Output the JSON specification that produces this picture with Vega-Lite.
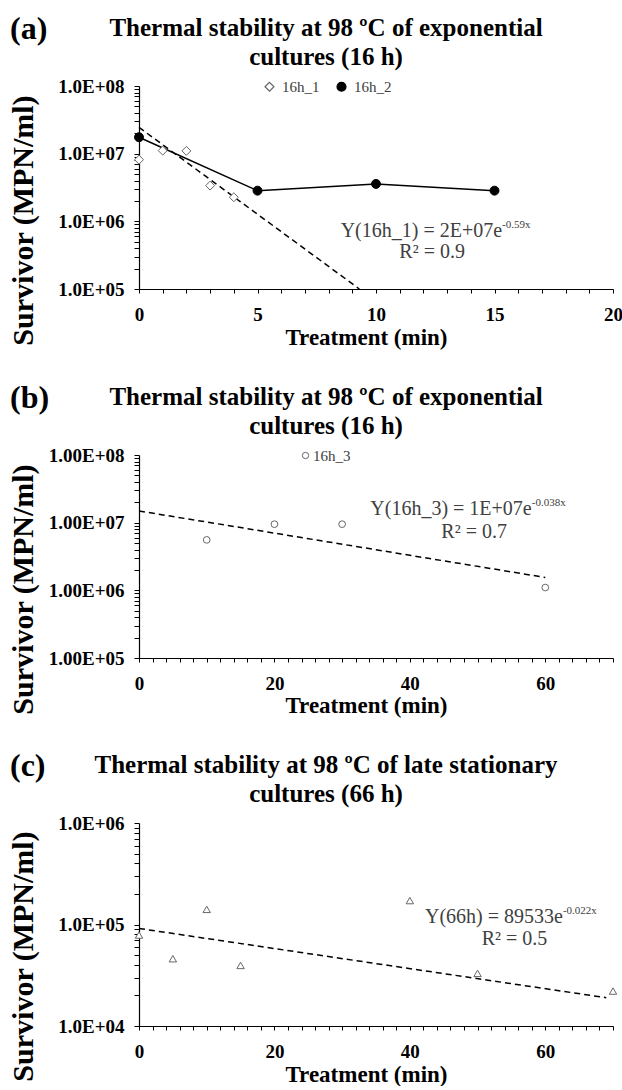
{
  "$schema": "https://vega.github.io/schema/vega-lite/v6.json",
  "padding": {"top": 13, "left": 8, "right": 0, "bottom": 0},
  "spacing": 33,
  "resolve": {"scale": {"shape": "independent", "fill": "independent", "stroke": "independent"}, "legend": {"shape": "independent", "fill": "independent", "stroke": "independent"}},
  "config": {
    "font": "Liberation Serif",
    "view": {"stroke": null},
    "axis": {"grid": false, "domainColor": "black", "tickColor": "black", "labelColor": "black", "titleColor": "black", "labelFont": "Liberation Serif", "titleFont": "Liberation Serif", "labelFontWeight": "bold", "titleFontWeight": "bold", "labelFontSize": 19, "domainWidth": 1.2, "tickWidth": 1, "labelOverlap": false, "labelFlush": false},
    "title": {"font": "Liberation Serif", "fontWeight": "bold", "color": "black"},
    "legend": {"labelFont": "Liberation Serif", "labelFontSize": 15, "labelColor": "#404040", "labelFontWeight": "normal"},
    "text": {"font": "Liberation Serif"}
  },
  "datasets": {
    "a_pts": [
      {"sa": "16h_1", "t": 0, "v": 8150000},
      {"sa": "16h_1", "t": 1, "v": 11100000},
      {"sa": "16h_1", "t": 2, "v": 11000000},
      {"sa": "16h_1", "t": 3, "v": 3370000},
      {"sa": "16h_1", "t": 4, "v": 2270000},
      {"sa": "16h_2", "t": 0, "v": 17500000},
      {"sa": "16h_2", "t": 5, "v": 2840000},
      {"sa": "16h_2", "t": 10, "v": 3570000},
      {"sa": "16h_2", "t": 15, "v": 2840000}
    ],
    "a_fit": [{"t": 0, "v": 24500000}, {"t": 9.3, "v": 100000}],
    "b_pts": [
      {"sb": "16h_3", "t": 10, "v": 5570000},
      {"sb": "16h_3", "t": 20, "v": 9500000},
      {"sb": "16h_3", "t": 30, "v": 9500000},
      {"sb": "16h_3", "t": 60, "v": 1100000}
    ],
    "b_fit": [{"t": 0, "v": 14900000}, {"t": 60, "v": 1550000}],
    "c_pts": [
      {"sc": "66h", "t": 0, "v": 78700},
      {"sc": "66h", "t": 5, "v": 46000},
      {"sc": "66h", "t": 10, "v": 141000},
      {"sc": "66h", "t": 15, "v": 39500},
      {"sc": "66h", "t": 40, "v": 172000},
      {"sc": "66h", "t": 50, "v": 33000},
      {"sc": "66h", "t": 70, "v": 22100}
    ],
    "c_fit": [{"t": 0, "v": 91400}, {"t": 69, "v": 19000}],
    "one": [{"k": 1}]
  },
  "vconcat": [
    {
      "title": {"text": "(a)", "anchor": "start", "frame": "group", "fontSize": 32, "offset": -30, "dx": -129},
      "resolve": {"scale": {"shape": "independent", "fill": "independent", "stroke": "independent"}, "legend": {"shape": "independent", "fill": "independent", "stroke": "independent"}},
      "vconcat": [
        {
          "title": {"text": ["Thermal stability at 98 ºC of exponential", "cultures (16 h)"], "fontSize": 25, "lineHeight": 29, "anchor": "middle", "frame": "group", "dx": -50, "offset": 7},
          "width": 474,
          "height": 203,
          "layer": [
            {
              "encoding": {
                "x": {"field": "t", "type": "quantitative", "scale": {"domain": [0, 20], "nice": false, "zero": false},
                  "axis": {"values": [0,1,2,3,4,5,6,7,8,9,10,11,12,13,14,15,16,17,18,19,20], "labelExpr": "datum.value % 5 === 0 ? datum.label : ''", "labelOverlap": false, "tickSize": 4, "labelPadding": 12, "title": "Treatment (min)", "titleFontSize": 23, "titleX": 227, "titleY": 55, "titleBaseline": "alphabetic", "titleAlign": "center"}},
                "y": {"field": "v", "type": "quantitative", "scale": {"type": "log", "domain": [100000, 100000000], "nice": false},
                  "axis": {"values": [100000,200000,300000,400000,500000,600000,700000,800000,900000,1000000,2000000,3000000,4000000,5000000,6000000,7000000,8000000,9000000,10000000,20000000,30000000,40000000,50000000,60000000,70000000,80000000,90000000,100000000], "labelExpr": "abs(log(datum.value)/LN10 - round(log(datum.value)/LN10)) < 0.001 ? '1.0E+0' + round(log(datum.value)/LN10) : ''", "labelOverlap": false, "tickSize": 5, "labelPadding": 10, "title": "Survivor (MPN/ml)", "titleFontSize": 30, "titleX": -107, "titleY": 134, "titleBaseline": "alphabetic", "titleAlign": "center", "titleAngle": 270}}
              },
              "layer": [
                {"data": {"name": "a_fit"}, "mark": {"type": "line", "color": "black", "strokeWidth": 1.5, "strokeDash": [6, 4]}},
                {"data": {"name": "a_pts"}, "transform": [{"filter": "datum.sa === '16h_2'"}], "mark": {"type": "line", "color": "black", "strokeWidth": 1.5}},
                {"data": {"name": "a_pts"}, "mark": {"type": "point", "size": 80, "opacity": 1, "strokeWidth": 1},
                  "encoding": {
                    "shape": {"field": "sa", "type": "nominal", "scale": {"domain": ["16h_1", "16h_2"], "range": ["diamond", "circle"]},
                      "legend": {"title": null, "orient": "none", "legendX": 123, "legendY": -7, "direction": "horizontal", "symbolSize": 80, "labelOffset": 5, "columnPadding": 14, "symbolStrokeWidth": 1.2}},
                    "fill": {"field": "sa", "type": "nominal", "scale": {"domain": ["16h_1", "16h_2"], "range": ["white", "black"]},
                      "legend": {"title": null, "orient": "none", "legendX": 123, "legendY": -7, "direction": "horizontal", "symbolSize": 80, "labelOffset": 5, "columnPadding": 14, "symbolStrokeWidth": 1.2}},
                    "stroke": {"field": "sa", "type": "nominal", "scale": {"domain": ["16h_1", "16h_2"], "range": ["#666666", "black"]},
                      "legend": {"title": null, "orient": "none", "legendX": 123, "legendY": -7, "direction": "horizontal", "symbolSize": 80, "labelOffset": 5, "columnPadding": 14, "symbolStrokeWidth": 1.2}}
                  }}
              ]
            },
            {"data": {"name": "one"}, "mark": {"type": "text", "align": "right", "baseline": "alphabetic", "fontSize": 20, "color": "#404040"},
              "encoding": {
                "x": {"datum": 15.32, "type": "quantitative", "axis": {"values": [0,1,2,3,4,5,6,7,8,9,10,11,12,13,14,15,16,17,18,19,20], "labelExpr": "datum.value % 5 === 0 ? datum.label : ''", "labelOverlap": false, "tickSize": 4, "labelPadding": 12, "title": "Treatment (min)", "titleFontSize": 23, "titleX": 227, "titleY": 55, "titleBaseline": "alphabetic", "titleAlign": "center"}},
                "y": {"datum": 578000, "type": "quantitative", "axis": {"values": [100000,200000,300000,400000,500000,600000,700000,800000,900000,1000000,2000000,3000000,4000000,5000000,6000000,7000000,8000000,9000000,10000000,20000000,30000000,40000000,50000000,60000000,70000000,80000000,90000000,100000000], "labelExpr": "abs(log(datum.value)/LN10 - round(log(datum.value)/LN10)) < 0.001 ? '1.0E+0' + round(log(datum.value)/LN10) : ''", "labelOverlap": false, "tickSize": 5, "labelPadding": 10, "title": "Survivor (MPN/ml)", "titleFontSize": 30, "titleX": -107, "titleY": 134, "titleBaseline": "alphabetic", "titleAlign": "center", "titleAngle": 270}},
                "text": {"value": "Y(16h_1) = 2E+07e"}}},
            {"data": {"name": "one"}, "mark": {"type": "text", "align": "left", "baseline": "alphabetic", "fontSize": 11, "dy": -9, "color": "#404040"},
              "encoding": {
                "x": {"datum": 15.32, "type": "quantitative", "axis": {"values": [0,1,2,3,4,5,6,7,8,9,10,11,12,13,14,15,16,17,18,19,20], "labelExpr": "datum.value % 5 === 0 ? datum.label : ''", "labelOverlap": false, "tickSize": 4, "labelPadding": 12, "title": "Treatment (min)", "titleFontSize": 23, "titleX": 227, "titleY": 55, "titleBaseline": "alphabetic", "titleAlign": "center"}},
                "y": {"datum": 578000, "type": "quantitative", "axis": {"values": [100000,200000,300000,400000,500000,600000,700000,800000,900000,1000000,2000000,3000000,4000000,5000000,6000000,7000000,8000000,9000000,10000000,20000000,30000000,40000000,50000000,60000000,70000000,80000000,90000000,100000000], "labelExpr": "abs(log(datum.value)/LN10 - round(log(datum.value)/LN10)) < 0.001 ? '1.0E+0' + round(log(datum.value)/LN10) : ''", "labelOverlap": false, "tickSize": 5, "labelPadding": 10, "title": "Survivor (MPN/ml)", "titleFontSize": 30, "titleX": -107, "titleY": 134, "titleBaseline": "alphabetic", "titleAlign": "center", "titleAngle": 270}},
                "text": {"value": "-0.59x"}}},
            {"data": {"name": "one"}, "mark": {"type": "text", "align": "center", "baseline": "alphabetic", "fontSize": 20, "color": "#404040"},
              "encoding": {
                "x": {"datum": 12.37, "type": "quantitative", "axis": {"values": [0,1,2,3,4,5,6,7,8,9,10,11,12,13,14,15,16,17,18,19,20], "labelExpr": "datum.value % 5 === 0 ? datum.label : ''", "labelOverlap": false, "tickSize": 4, "labelPadding": 12, "title": "Treatment (min)", "titleFontSize": 23, "titleX": 227, "titleY": 55, "titleBaseline": "alphabetic", "titleAlign": "center"}},
                "y": {"datum": 288000, "type": "quantitative", "axis": {"values": [100000,200000,300000,400000,500000,600000,700000,800000,900000,1000000,2000000,3000000,4000000,5000000,6000000,7000000,8000000,9000000,10000000,20000000,30000000,40000000,50000000,60000000,70000000,80000000,90000000,100000000], "labelExpr": "abs(log(datum.value)/LN10 - round(log(datum.value)/LN10)) < 0.001 ? '1.0E+0' + round(log(datum.value)/LN10) : ''", "labelOverlap": false, "tickSize": 5, "labelPadding": 10, "title": "Survivor (MPN/ml)", "titleFontSize": 30, "titleX": -107, "titleY": 134, "titleBaseline": "alphabetic", "titleAlign": "center", "titleAngle": 270}},
                "text": {"value": "R² = 0.9"}}}
          ]
        }
      ]
    },
    {
      "title": {"text": "(b)", "anchor": "start", "frame": "group", "fontSize": 32, "offset": -30, "dx": -129},
      "resolve": {"scale": {"shape": "independent", "stroke": "independent"}, "legend": {"shape": "independent", "stroke": "independent"}},
      "vconcat": [
        {
          "title": {"text": ["Thermal stability at 98 ºC of exponential", "cultures (16 h)"], "fontSize": 25, "lineHeight": 29, "anchor": "middle", "frame": "group", "dx": -50, "offset": 7},
          "width": 474,
          "height": 203,
          "layer": [
            {
              "encoding": {
                "x": {"field": "t", "type": "quantitative", "scale": {"domain": [0, 70], "nice": false, "zero": false},
                  "axis": {"values": [0,2,4,6,8,10,12,14,16,18,20,22,24,26,28,30,32,34,36,38,40,42,44,46,48,50,52,54,56,58,60,62,64,66,68,70], "labelExpr": "datum.value % 20 === 0 ? datum.label : ''", "labelOverlap": false, "tickSize": 4, "labelPadding": 12, "title": "Treatment (min)", "titleFontSize": 23, "titleX": 227, "titleY": 54, "titleBaseline": "alphabetic", "titleAlign": "center"}},
                "y": {"field": "v", "type": "quantitative", "scale": {"type": "log", "domain": [100000, 100000000], "nice": false},
                  "axis": {"values": [100000,200000,300000,400000,500000,600000,700000,800000,900000,1000000,2000000,3000000,4000000,5000000,6000000,7000000,8000000,9000000,10000000,20000000,30000000,40000000,50000000,60000000,70000000,80000000,90000000,100000000], "labelExpr": "abs(log(datum.value)/LN10 - round(log(datum.value)/LN10)) < 0.001 ? '1.00E+0' + round(log(datum.value)/LN10) : ''", "labelOverlap": false, "tickSize": 5, "labelPadding": 10, "title": "Survivor (MPN/ml)", "titleFontSize": 30, "titleX": -107, "titleY": 134, "titleBaseline": "alphabetic", "titleAlign": "center", "titleAngle": 270}}
              },
              "layer": [
                {"data": {"name": "b_fit"}, "mark": {"type": "line", "color": "black", "strokeWidth": 1.5, "strokeDash": [6, 4]}},
                {"data": {"name": "b_pts"}, "mark": {"type": "point", "shape": "circle", "size": 45, "opacity": 1, "strokeWidth": 1, "fill": "white"},
                  "encoding": {
                    "stroke": {"field": "sb", "type": "nominal", "scale": {"domain": ["16h_3"], "range": ["#666666"]},
                      "legend": {"title": null, "orient": "none", "legendX": 159, "legendY": -7, "direction": "horizontal", "symbolType": "circle", "symbolSize": 40, "labelOffset": 0, "symbolFillColor": "white", "symbolStrokeWidth": 1}}
                  }}
              ]
            },
            {"data": {"name": "one"}, "mark": {"type": "text", "align": "right", "baseline": "alphabetic", "fontSize": 20, "color": "#404040"},
              "encoding": {
                "x": {"datum": 58.0, "type": "quantitative", "axis": {"values": [0,2,4,6,8,10,12,14,16,18,20,22,24,26,28,30,32,34,36,38,40,42,44,46,48,50,52,54,56,58,60,62,64,66,68,70], "labelExpr": "datum.value % 20 === 0 ? datum.label : ''", "labelOverlap": false, "tickSize": 4, "labelPadding": 12, "title": "Treatment (min)", "titleFontSize": 23, "titleX": 227, "titleY": 54, "titleBaseline": "alphabetic", "titleAlign": "center"}},
                "y": {"datum": 13000000, "type": "quantitative", "axis": {"values": [100000,200000,300000,400000,500000,600000,700000,800000,900000,1000000,2000000,3000000,4000000,5000000,6000000,7000000,8000000,9000000,10000000,20000000,30000000,40000000,50000000,60000000,70000000,80000000,90000000,100000000], "labelExpr": "abs(log(datum.value)/LN10 - round(log(datum.value)/LN10)) < 0.001 ? '1.00E+0' + round(log(datum.value)/LN10) : ''", "labelOverlap": false, "tickSize": 5, "labelPadding": 10, "title": "Survivor (MPN/ml)", "titleFontSize": 30, "titleX": -107, "titleY": 134, "titleBaseline": "alphabetic", "titleAlign": "center", "titleAngle": 270}},
                "text": {"value": "Y(16h_3) = 1E+07e"}}},
            {"data": {"name": "one"}, "mark": {"type": "text", "align": "left", "baseline": "alphabetic", "fontSize": 11, "dy": -9, "color": "#404040"},
              "encoding": {
                "x": {"datum": 58.0, "type": "quantitative", "axis": {"values": [0,2,4,6,8,10,12,14,16,18,20,22,24,26,28,30,32,34,36,38,40,42,44,46,48,50,52,54,56,58,60,62,64,66,68,70], "labelExpr": "datum.value % 20 === 0 ? datum.label : ''", "labelOverlap": false, "tickSize": 4, "labelPadding": 12, "title": "Treatment (min)", "titleFontSize": 23, "titleX": 227, "titleY": 54, "titleBaseline": "alphabetic", "titleAlign": "center"}},
                "y": {"datum": 13000000, "type": "quantitative", "axis": {"values": [100000,200000,300000,400000,500000,600000,700000,800000,900000,1000000,2000000,3000000,4000000,5000000,6000000,7000000,8000000,9000000,10000000,20000000,30000000,40000000,50000000,60000000,70000000,80000000,90000000,100000000], "labelExpr": "abs(log(datum.value)/LN10 - round(log(datum.value)/LN10)) < 0.001 ? '1.00E+0' + round(log(datum.value)/LN10) : ''", "labelOverlap": false, "tickSize": 5, "labelPadding": 10, "title": "Survivor (MPN/ml)", "titleFontSize": 30, "titleX": -107, "titleY": 134, "titleBaseline": "alphabetic", "titleAlign": "center", "titleAngle": 270}},
                "text": {"value": "-0.038x"}}},
            {"data": {"name": "one"}, "mark": {"type": "text", "align": "center", "baseline": "alphabetic", "fontSize": 20, "color": "#404040"},
              "encoding": {
                "x": {"datum": 49.5, "type": "quantitative", "axis": {"values": [0,2,4,6,8,10,12,14,16,18,20,22,24,26,28,30,32,34,36,38,40,42,44,46,48,50,52,54,56,58,60,62,64,66,68,70], "labelExpr": "datum.value % 20 === 0 ? datum.label : ''", "labelOverlap": false, "tickSize": 4, "labelPadding": 12, "title": "Treatment (min)", "titleFontSize": 23, "titleX": 227, "titleY": 54, "titleBaseline": "alphabetic", "titleAlign": "center"}},
                "y": {"datum": 5970000, "type": "quantitative", "axis": {"values": [100000,200000,300000,400000,500000,600000,700000,800000,900000,1000000,2000000,3000000,4000000,5000000,6000000,7000000,8000000,9000000,10000000,20000000,30000000,40000000,50000000,60000000,70000000,80000000,90000000,100000000], "labelExpr": "abs(log(datum.value)/LN10 - round(log(datum.value)/LN10)) < 0.001 ? '1.00E+0' + round(log(datum.value)/LN10) : ''", "labelOverlap": false, "tickSize": 5, "labelPadding": 10, "title": "Survivor (MPN/ml)", "titleFontSize": 30, "titleX": -107, "titleY": 134, "titleBaseline": "alphabetic", "titleAlign": "center", "titleAngle": 270}},
                "text": {"value": "R² = 0.7"}}}
          ]
        }
      ]
    },
    {
      "title": {"text": "(c)", "anchor": "start", "frame": "group", "fontSize": 32, "offset": -30, "dx": -129},
      "vconcat": [
        {
          "title": {"text": ["Thermal stability at 98 ºC of late stationary", "cultures (66 h)"], "fontSize": 25, "lineHeight": 29, "anchor": "middle", "frame": "group", "dx": -50, "offset": 7},
          "width": 474,
          "height": 203,
          "layer": [
            {
              "encoding": {
                "x": {"field": "t", "type": "quantitative", "scale": {"domain": [0, 70], "nice": false, "zero": false},
                  "axis": {"values": [0,2,4,6,8,10,12,14,16,18,20,22,24,26,28,30,32,34,36,38,40,42,44,46,48,50,52,54,56,58,60,62,64,66,68,70], "labelExpr": "datum.value % 20 === 0 ? datum.label : ''", "labelOverlap": false, "tickSize": 4, "labelPadding": 12, "title": "Treatment (min)", "titleFontSize": 23, "titleX": 227, "titleY": 55, "titleBaseline": "alphabetic", "titleAlign": "center"}},
                "y": {"field": "v", "type": "quantitative", "scale": {"type": "log", "domain": [10000, 1000000], "nice": false},
                  "axis": {"values": [10000,20000,30000,40000,50000,60000,70000,80000,90000,100000,200000,300000,400000,500000,600000,700000,800000,900000,1000000], "labelExpr": "abs(log(datum.value)/LN10 - round(log(datum.value)/LN10)) < 0.001 ? '1.0E+0' + round(log(datum.value)/LN10) : ''", "labelOverlap": false, "tickSize": 5, "labelPadding": 10, "title": "Survivor (MPN/ml)", "titleFontSize": 30, "titleX": -107, "titleY": 133, "titleBaseline": "alphabetic", "titleAlign": "center", "titleAngle": 270}}
              },
              "layer": [
                {"data": {"name": "c_fit"}, "mark": {"type": "line", "color": "black", "strokeWidth": 1.5, "strokeDash": [6, 4]}},
                {"data": {"name": "c_pts"}, "mark": {"type": "point", "shape": "triangle-up", "size": 55, "opacity": 1, "strokeWidth": 1, "stroke": "#666666", "fill": "white"}}
              ]
            },
            {"data": {"name": "one"}, "mark": {"type": "text", "align": "right", "baseline": "alphabetic", "fontSize": 20, "color": "#404040"},
              "encoding": {
                "x": {"datum": 62.6, "type": "quantitative", "axis": {"values": [0,2,4,6,8,10,12,14,16,18,20,22,24,26,28,30,32,34,36,38,40,42,44,46,48,50,52,54,56,58,60,62,64,66,68,70], "labelExpr": "datum.value % 20 === 0 ? datum.label : ''", "labelOverlap": false, "tickSize": 4, "labelPadding": 12, "title": "Treatment (min)", "titleFontSize": 23, "titleX": 227, "titleY": 55, "titleBaseline": "alphabetic", "titleAlign": "center"}},
                "y": {"datum": 104000, "type": "quantitative", "axis": {"values": [10000,20000,30000,40000,50000,60000,70000,80000,90000,100000,200000,300000,400000,500000,600000,700000,800000,900000,1000000], "labelExpr": "abs(log(datum.value)/LN10 - round(log(datum.value)/LN10)) < 0.001 ? '1.0E+0' + round(log(datum.value)/LN10) : ''", "labelOverlap": false, "tickSize": 5, "labelPadding": 10, "title": "Survivor (MPN/ml)", "titleFontSize": 30, "titleX": -107, "titleY": 133, "titleBaseline": "alphabetic", "titleAlign": "center", "titleAngle": 270}},
                "text": {"value": "Y(66h) = 89533e"}}},
            {"data": {"name": "one"}, "mark": {"type": "text", "align": "left", "baseline": "alphabetic", "fontSize": 11, "dy": -9, "color": "#404040"},
              "encoding": {
                "x": {"datum": 62.6, "type": "quantitative", "axis": {"values": [0,2,4,6,8,10,12,14,16,18,20,22,24,26,28,30,32,34,36,38,40,42,44,46,48,50,52,54,56,58,60,62,64,66,68,70], "labelExpr": "datum.value % 20 === 0 ? datum.label : ''", "labelOverlap": false, "tickSize": 4, "labelPadding": 12, "title": "Treatment (min)", "titleFontSize": 23, "titleX": 227, "titleY": 55, "titleBaseline": "alphabetic", "titleAlign": "center"}},
                "y": {"datum": 104000, "type": "quantitative", "axis": {"values": [10000,20000,30000,40000,50000,60000,70000,80000,90000,100000,200000,300000,400000,500000,600000,700000,800000,900000,1000000], "labelExpr": "abs(log(datum.value)/LN10 - round(log(datum.value)/LN10)) < 0.001 ? '1.0E+0' + round(log(datum.value)/LN10) : ''", "labelOverlap": false, "tickSize": 5, "labelPadding": 10, "title": "Survivor (MPN/ml)", "titleFontSize": 30, "titleX": -107, "titleY": 133, "titleBaseline": "alphabetic", "titleAlign": "center", "titleAngle": 270}},
                "text": {"value": "-0.022x"}}},
            {"data": {"name": "one"}, "mark": {"type": "text", "align": "center", "baseline": "alphabetic", "fontSize": 20, "color": "#404040"},
              "encoding": {
                "x": {"datum": 55.45, "type": "quantitative", "axis": {"values": [0,2,4,6,8,10,12,14,16,18,20,22,24,26,28,30,32,34,36,38,40,42,44,46,48,50,52,54,56,58,60,62,64,66,68,70], "labelExpr": "datum.value % 20 === 0 ? datum.label : ''", "labelOverlap": false, "tickSize": 4, "labelPadding": 12, "title": "Treatment (min)", "titleFontSize": 23, "titleX": 227, "titleY": 55, "titleBaseline": "alphabetic", "titleAlign": "center"}},
                "y": {"datum": 63000, "type": "quantitative", "axis": {"values": [10000,20000,30000,40000,50000,60000,70000,80000,90000,100000,200000,300000,400000,500000,600000,700000,800000,900000,1000000], "labelExpr": "abs(log(datum.value)/LN10 - round(log(datum.value)/LN10)) < 0.001 ? '1.0E+0' + round(log(datum.value)/LN10) : ''", "labelOverlap": false, "tickSize": 5, "labelPadding": 10, "title": "Survivor (MPN/ml)", "titleFontSize": 30, "titleX": -107, "titleY": 133, "titleBaseline": "alphabetic", "titleAlign": "center", "titleAngle": 270}},
                "text": {"value": "R² = 0.5"}}}
          ]
        }
      ]
    }
  ]
}
